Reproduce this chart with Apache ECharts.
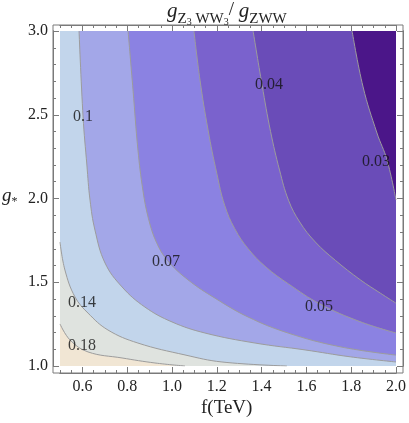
<!DOCTYPE html>
<html><head><meta charset="utf-8">
<script src="https://cdn.jsdelivr.net/npm/echarts@6/dist/echarts.min.js"></script>
<style>html,body{margin:0;padding:0;background:#fff}#c{width:409px;height:423px}</style>
</head><body><div id="c"></div>
<script>
// contour levels and the colour of the region just above (lower values) each contour
const levels = ['0.18', '0.14', '0.1', '0.07', '0.05', '0.04', '0.03'];
const bandColors = ['#dfe3df', '#c2d5eb', '#a3a7e8', '#8b82e2', '#7a62cd', '#6a4cb8', '#4b1689'];
const baseColor = '#f1e6d4';

// contour lines: [f (TeV), g*]
const c018 = [[0.5,1.251],[0.545,1.155],[0.625,1.084],[0.777,1.048],[0.924,1.018],[1.058,1.0]];
const c014 = [[0.5,1.74],[0.522,1.573],[0.567,1.412],[0.625,1.316],[0.714,1.215],[0.848,1.137],[1.058,1.066],[1.223,1.024],[1.513,1.0]];
const c010 = [[0.585,3.0],[0.603,2.487],[0.62,2.2],[0.634,1.991],[0.656,1.812],[0.701,1.615],[0.777,1.472],[0.879,1.352],[1.0,1.263],[1.147,1.197],[1.371,1.137],[1.594,1.096],[1.795,1.055],[2.0,1.024]];
const c007 = [[0.804,3.0],[0.826,2.648],[0.848,2.29],[0.87,2.05],[0.895,1.88],[0.93,1.74],[0.98,1.63],[1.071,1.515],[1.192,1.405],[1.339,1.293],[1.518,1.197],[1.75,1.115],[2.0,1.065]];
const c005 = [[1.098,3.0],[1.125,2.707],[1.161,2.409],[1.2,2.15],[1.235,1.96],[1.28,1.82],[1.34,1.7],[1.42,1.59],[1.52,1.49],[1.661,1.37],[1.839,1.265],[2.0,1.197]];
const c004 = [[1.362,3.0],[1.402,2.678],[1.44,2.4],[1.48,2.17],[1.52,1.99],[1.57,1.86],[1.64,1.74],[1.73,1.63],[1.84,1.515],[1.93,1.435],[2.0,1.375]];
const c003 = [[1.804,3.0],[1.853,2.666],[1.915,2.391],[1.96,2.23],[2.0,1.991]];
const contours = [c018, c014, c010, c007, c005, c004, c003];

// contour label positions [f, g*, text]
const contourLabels = [[0.603,2.487,'0.1'],[0.598,1.376,'0.14'],[0.598,1.119,'0.18'],[0.973,1.621,'0.07'],[1.656,1.352,'0.05'],[1.433,2.678,'0.04'],[1.911,2.218,'0.03']];

// ticks
const xMajor = [0.6,0.8,1.0,1.2,1.4,1.6,1.8,2.0];
const yMajor = [1.0,1.5,2.0,2.5,3.0];

const F = 'Liberation Serif';
const TC = '#7a7a7a';
const chart = echarts.init(document.getElementById('c'));

function xAx(pos, off, major, labels) {
  return {
    type:'value', min:0.5, max:2.0, interval:0.05, position:pos, offset:off,
    axisLine:{show:true, lineStyle:{color:TC, width:1}}, splitLine:{show:false},
    axisTick: major ? {show:true, inside:true, length:6, lineStyle:{color:TC, width:1}, customValues:xMajor}
                    : {show:true, inside:true, length:3, lineStyle:{color:TC, width:1}},
    axisLabel: labels ? {show:true, customValues:xMajor, formatter:v=>v.toFixed(1), fontFamily:F, fontSize:16, color:'#222', margin:6}
                      : {show:false}
  };
}
function yAx(pos, off, major, labels) {
  return {
    type:'value', min:1.0, max:3.0, interval:0.1, position:pos, offset:off,
    axisLine:{show:true, lineStyle:{color:TC, width:1}}, splitLine:{show:false},
    axisTick: major ? {show:true, inside:true, length:6, lineStyle:{color:TC, width:1}, customValues:yMajor}
                    : {show:true, inside:true, length:3, lineStyle:{color:TC, width:1}},
    axisLabel: labels ? {show:true, customValues:yMajor, formatter:v=>v.toFixed(1), fontFamily:F, fontSize:16, color:'#222', margin:5}
                      : {show:false}
  };
}

const series = [];
contours.forEach((pts, i) => {
  const last = pts[pts.length-1];
  const area = last[0] < 2.0 ? pts.concat([[2.0, 1.0]]) : pts;
  series.push({
    type:'line', data:area, symbol:'none', smooth:0.4,
    lineStyle:{width:0, opacity:0},
    areaStyle:{color:bandColors[i], opacity:1, origin:'end'},
    z:2+i, silent:true
  });
});
contours.forEach((pts) => {
  series.push({
    type:'line', data:pts, symbol:'none', smooth:0.4,
    lineStyle:{width:1, color:'#9c9c9c'}, z:20, silent:true
  });
});
series.push({
  type:'scatter', data:contourLabels, symbolSize:0, z:30,
  label:{show:true, position:'inside', formatter:p=>p.value[2], fontFamily:F, fontSize:16, color:'#111'}
});

chart.setOption({
  animation:false,
  grid:{left:60, right:13, top:31, bottom:57, show:true, backgroundColor:baseColor, borderWidth:0},
  xAxis:[xAx('bottom',7,false,true), xAx('bottom',7,true,false), xAx('top',6,false,false), xAx('top',6,true,false)],
  yAxis:[yAx('left',7,false,true), yAx('left',7,true,false), yAx('right',7,false,false), yAx('right',7,true,false)],
  series:series,
  graphic:[
    {type:'rect', shape:{x:53, y:25, width:350, height:348}, style:{fill:'none', stroke:TC, lineWidth:1}, z:100, silent:true},
    {type:'text', left:167, top:1, z:100, style:{
      text:'{g|g}{s|Z}{ss|3}{s| WW}{ss|3}{n|/ }{g|g}{s|ZWW}',
      rich:{
        g:{fontFamily:F, fontStyle:'italic', fontSize:21, lineHeight:26, verticalAlign:'top', fill:'#222'},
        n:{fontFamily:F, fontSize:19, lineHeight:26, verticalAlign:'top', fill:'#222'},
        s:{fontFamily:F, fontSize:15, lineHeight:15, verticalAlign:'bottom', fill:'#222'},
        ss:{fontFamily:F, fontSize:10, lineHeight:9, verticalAlign:'bottom', fill:'#222'}
      }}},
    {type:'text', left:2, top:186, z:100, style:{
      text:'{g|g}{s|*}',
      rich:{
        g:{fontFamily:F, fontStyle:'italic', fontSize:19, lineHeight:22, verticalAlign:'top', fill:'#222'},
        s:{fontFamily:F, fontSize:12, lineHeight:10, verticalAlign:'bottom', fill:'#222'}
      }}},
    {type:'text', left:201, top:399, z:100, style:{text:'f(TeV)', fontFamily:F, fontSize:19, fill:'#222'}}
  ]
});
</script></body></html>
